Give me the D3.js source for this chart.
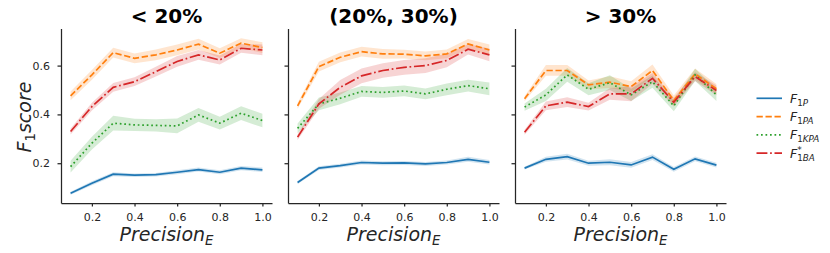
<!DOCTYPE html>
<html>
<head>
<meta charset="utf-8">
<script src="https://cdn.jsdelivr.net/npm/d3@7"></script>
<style>
  body { margin: 0; background: #fff; }
  svg { font-family: "DejaVu Sans", sans-serif; }
</style>
</head>
<body>
<div id="chart"></div>
<script>
// x values and ticks
const precision = [0.1, 0.2, 0.3, 0.4, 0.5, 0.6, 0.7, 0.8, 0.9, 1.0];
const xTicks = [0.2, 0.4, 0.6, 0.8, 1.0];
const yTicks = [0.2, 0.4, 0.6];
const panelTitles = ["< 20%", "(20%, 30%)", "> 30%"];

// panel "< 20%"
const low_F1P   = [0.077, 0.118, 0.155, 0.151, 0.153, 0.163, 0.174, 0.163, 0.180, 0.173];
const low_F1PA  = [0.476, 0.562, 0.653, 0.630, 0.644, 0.664, 0.688, 0.651, 0.692, 0.674];
const low_F1KPA = [0.186, 0.282, 0.364, 0.357, 0.355, 0.353, 0.398, 0.364, 0.405, 0.375];
const low_F1BA  = [0.330, 0.432, 0.511, 0.534, 0.575, 0.617, 0.644, 0.623, 0.671, 0.664];
const low_ci_F1P   = [0.006, 0.008, 0.008, 0.007, 0.007, 0.008, 0.008, 0.008, 0.009, 0.009];
const low_ci_F1PA  = [0.018, 0.020, 0.020, 0.020, 0.022, 0.022, 0.022, 0.020, 0.020, 0.022];
const low_ci_F1KPA = [0.024, 0.026, 0.030, 0.025, 0.025, 0.030, 0.028, 0.026, 0.028, 0.028];
const low_ci_F1BA  = [0.012, 0.016, 0.018, 0.018, 0.020, 0.022, 0.020, 0.018, 0.018, 0.022];

// panel "(20%, 30%)"
const mid_F1P   = [0.121, 0.180, 0.190, 0.203, 0.200, 0.201, 0.197, 0.203, 0.216, 0.204];
const mid_F1PA  = [0.435, 0.596, 0.634, 0.657, 0.648, 0.647, 0.640, 0.648, 0.689, 0.664];
const mid_F1KPA = [0.343, 0.443, 0.466, 0.494, 0.490, 0.496, 0.484, 0.503, 0.518, 0.505];
const mid_F1BA  = [0.307, 0.443, 0.511, 0.558, 0.580, 0.593, 0.600, 0.621, 0.667, 0.644];
const mid_ci_F1P   = [0.006, 0.008, 0.008, 0.008, 0.008, 0.008, 0.008, 0.008, 0.010, 0.009];
const mid_ci_F1PA  = [0.012, 0.020, 0.020, 0.020, 0.020, 0.018, 0.018, 0.018, 0.020, 0.022];
const mid_ci_F1KPA = [0.020, 0.026, 0.024, 0.022, 0.022, 0.022, 0.022, 0.024, 0.024, 0.026];
const mid_ci_F1BA  = [0.012, 0.020, 0.030, 0.030, 0.030, 0.030, 0.030, 0.028, 0.022, 0.026];

// panel "> 30%"
const high_F1P   = [0.180, 0.216, 0.227, 0.200, 0.204, 0.193, 0.225, 0.175, 0.218, 0.192];
const high_F1PA  = [0.464, 0.580, 0.580, 0.521, 0.532, 0.514, 0.580, 0.457, 0.566, 0.505];
const high_F1KPA = [0.430, 0.480, 0.562, 0.503, 0.530, 0.480, 0.534, 0.435, 0.562, 0.480];
const high_F1BA  = [0.327, 0.435, 0.450, 0.432, 0.484, 0.484, 0.548, 0.450, 0.555, 0.498];
const high_ci_F1P   = [0.006, 0.010, 0.012, 0.010, 0.012, 0.012, 0.012, 0.010, 0.010, 0.010];
const high_ci_F1PA  = [0.010, 0.022, 0.022, 0.018, 0.024, 0.022, 0.025, 0.020, 0.022, 0.020];
const high_ci_F1KPA = [0.015, 0.025, 0.028, 0.025, 0.030, 0.025, 0.025, 0.022, 0.025, 0.025];
const high_ci_F1BA  = [0.010, 0.018, 0.020, 0.016, 0.024, 0.030, 0.022, 0.018, 0.018, 0.020];

const panelData = [
  { mean: [low_F1P, low_F1PA, low_F1KPA, low_F1BA],   ci: [low_ci_F1P, low_ci_F1PA, low_ci_F1KPA, low_ci_F1BA] },
  { mean: [mid_F1P, mid_F1PA, mid_F1KPA, mid_F1BA],   ci: [mid_ci_F1P, mid_ci_F1PA, mid_ci_F1KPA, mid_ci_F1BA] },
  { mean: [high_F1P, high_F1PA, high_F1KPA, high_F1BA], ci: [high_ci_F1P, high_ci_F1PA, high_ci_F1KPA, high_ci_F1BA] }
];

// legend labels: [main, sub, sup]
const seriesLabels = [["F", "1P", ""], ["F", "1PA", ""], ["F", "1KPA", ""], ["F", "1BA", "*"]];
const colors = ["#1f77b4", "#ff7f0e", "#2ca02c", "#d62728"];
const dashes = [null, "6.3,2.7", "1.7,2.8", "10.9,2.7,1.7,2.7"];

const W = 830, H = 253;
const lw = 1.7;
const axColor = "#262626";
const panelLeft = [61, 288, 515];
const panelW = 211;
const plotTop = 28.5, plotBottom = 203;

const svg = d3.select("#chart").append("svg")
  .attr("width", W).attr("height", H);

const y = d3.scaleLinear().domain([0.037, 0.752]).range([plotBottom, plotTop]);

// write math-ish text: italic letters, upright digits
function mathText(sel, parts, size) {
  parts.forEach(p => {
    const t = sel.append("tspan").text(p.t)
      .style("font-size", (p.sub ? size * 0.7 : size) + "px")
      .style("font-style", /^[0-9*]+$/.test(p.t) ? "normal" : "italic");
    if (p.dy) t.attr("dy", p.dy);
  });
}

panelData.forEach((pd, pi) => {
  const x = d3.scaleLinear().domain([0.055, 1.045])
    .range([panelLeft[pi], panelLeft[pi] + panelW]);
  const g = svg.append("g");

  // bands
  pd.mean.forEach((vals, si) => {
    const area = d3.area()
      .x((d, i) => x(precision[i]))
      .y0((d, i) => y(d - pd.ci[si][i]))
      .y1((d, i) => y(d + pd.ci[si][i]));
    g.append("path").datum(vals)
      .attr("d", area)
      .attr("fill", colors[si])
      .attr("fill-opacity", 0.2);
  });

  // lines
  pd.mean.forEach((vals, si) => {
    const line = d3.line().x((d, i) => x(precision[i])).y(d => y(d));
    g.append("path").datum(vals)
      .attr("d", line)
      .attr("fill", "none")
      .attr("stroke", colors[si])
      .attr("stroke-width", lw)
      .attr("stroke-dasharray", dashes[si]);
  });

  // x axis
  const xa = g.append("g")
    .attr("transform", "translate(0," + plotBottom + ")")
    .call(d3.axisBottom(x).tickValues(xTicks).tickFormat(d3.format(".1f"))
      .tickSizeInner(3.5).tickSizeOuter(0).tickPadding(6.5));
  // y axis
  const ya = g.append("g")
    .attr("transform", "translate(" + panelLeft[pi] + ",0)")
    .call(d3.axisLeft(y).tickValues(yTicks)
      .tickFormat(pi === 0 ? d3.format(".1f") : () => "")
      .tickSizeInner(3.5).tickSizeOuter(0).tickPadding(7.5));
  [xa, ya].forEach(a => {
    a.select(".domain").attr("stroke", axColor).attr("stroke-width", 1.25);
    a.selectAll(".tick line").attr("stroke", axColor).attr("stroke-width", 1.25);
    a.selectAll(".tick text").attr("fill", axColor)
      .style("font-size", "11px").style("font-family", "DejaVu Sans");
  });

  // title
  svg.append("text")
    .attr("x", panelLeft[pi] + panelW / 2).attr("y", 22.5)
    .attr("text-anchor", "middle")
    .style("font-size", "20px").style("font-weight", "bold")
    .attr("fill", "#000")
    .text(panelTitles[pi]);

  // x label
  const xl = svg.append("text")
    .attr("x", panelLeft[pi] + panelW / 2).attr("y", 241)
    .attr("text-anchor", "middle").attr("fill", axColor);
  mathText(xl, [{ t: "Precision" }, { t: "E", sub: true, dy: 4 }], 19);
});

// y label
const yl = svg.append("text")
  .attr("transform", "translate(31,117) rotate(-90)")
  .attr("text-anchor", "middle").attr("fill", axColor);
mathText(yl, [{ t: "F" }, { t: "1", sub: true, dy: 4 }, { t: "score", dy: -4 }], 19);

// legend
const legY = [98.3, 116.6, 134.9, 153.2];
seriesLabels.forEach((lab, si) => {
  const lg = svg.append("g").attr("transform", "translate(0," + legY[si] + ")");
  lg.append("line")
    .attr("x1", 756.5).attr("x2", 782).attr("y1", 0).attr("y2", 0)
    .attr("stroke", colors[si]).attr("stroke-width", lw)
    .attr("stroke-dasharray", dashes[si]);
  const t = lg.append("text").attr("x", 790).attr("y", 4.5).attr("fill", axColor);
  t.append("tspan").text(lab[0]).style("font-size", "12.5px").style("font-style", "italic");
  if (lab[2]) {
    t.append("tspan").text(lab[2]).attr("dy", -5).style("font-size", "9px");
    t.append("tspan").text(lab[1][0]).attr("dx", -4.5).attr("dy", 8).style("font-size", "8.75px");
  } else {
    t.append("tspan").text(lab[1][0]).attr("dy", 3).style("font-size", "8.75px");
  }
  t.append("tspan").text(lab[1].slice(1)).style("font-size", "8.75px").style("font-style", "italic");
});
</script>
</body>
</html>
